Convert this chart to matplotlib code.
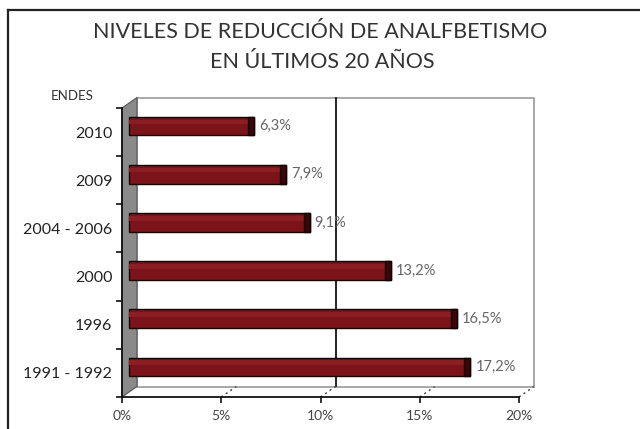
import matplotlib
matplotlib.use("Agg")
import matplotlib.pyplot as plt
import matplotlib.transforms as mtransforms
from matplotlib.patches import Polygon, Rectangle
from matplotlib.lines import Line2D

# Data
categories = ["1991 - 1992", "1996", "2000", "2004 - 2006", "2009", "2010"]
values = [17.2, 16.5, 13.2, 9.1, 7.9, 6.3]
value_labels = ["17,2%", "16,5%", "13,2%", "9,1%", "7,9%", "6,3%"]
xticks = [0, 5, 10, 15, 20]
xtick_labels = ["0%", "5%", "10%", "15%", "20%"]
title_lines = ["NIVELES DE REDUCCIÓN DE ANALFBETISMO", "EN ÚLTIMOS 20 AÑOS"]
axis_title = "ENDES"

W, H = 640, 429
fig = plt.figure(figsize=(W / 100, H / 100), dpi=100)
fig.patch.set_facecolor("white")
FONT = ["Lato", "DejaVu Sans"]

def fx(px):
    return px / W

def fy(py):
    return 1 - py / H

# outer border (top and left visible)
fig.add_artist(Line2D([fx(8), fx(640)], [fy(10), fy(10)], color="#222222", lw=1.6, transform=fig.transFigure))
fig.add_artist(Line2D([fx(8), fx(8)], [fy(10), fy(429)], color="#222222", lw=1.6, transform=fig.transFigure))

# main (front plane) axes
ax_l, ax_r, ax_t, ax_b = 122, 519, 108, 397
ax = fig.add_axes([fx(ax_l), fy(ax_b), (ax_r - ax_l) / W, (ax_b - ax_t) / H])
ax.set_xlim(0, 20)
ax.set_ylim(-0.5, len(categories) - 0.5)
ax.patch.set_alpha(0)

px_per_x = (ax_r - ax_l) / 20.0
px_per_y = (ax_b - ax_t) / len(categories)
dx = 15 / px_per_x
dy = 10.5 / px_per_y
n = len(categories)

# back wall
ax.add_patch(Rectangle((dx, -0.5 + dy), 20, n, facecolor="white", edgecolor="#9a9a9a", lw=1.2, clip_on=False, zorder=0))
# side wall
ax.add_patch(Polygon([(0, -0.5), (dx, -0.5 + dy), (dx, n - 0.5 + dy), (0, n - 0.5)],
                     closed=True, facecolor="#8a8a8a", edgecolor="#555555", lw=0.8, clip_on=False, zorder=0.5))
# gridline on back wall at 10%
ax.plot([10 + dx, 10 + dx], [-0.5 + dy, n - 0.5 + dy], color="black", lw=1.2, clip_on=False, zorder=0.6)
# floor dotted depth lines
for v in xticks[1:]:
    ax.plot([v, v + dx], [-0.5, -0.5 + dy], color="#444444", lw=1.0, ls=(0, (1.5, 2.5)), clip_on=False, zorder=0.6)

# bars with 3D offset
off = mtransforms.ScaledTranslation(7 / 100, 6 / 100, fig.dpi_scale_trans)
bar_tr = ax.transData + off
ypos = list(range(n))
bh = 0.39
ax.barh(ypos, values, height=bh, color="#7a1418", edgecolor="#120000", lw=1.0, transform=bar_tr, zorder=2)
# lighter top highlight strip
ax.barh([y + bh * 0.22 for y in ypos], values, height=bh * 0.25, color="#8a1e22", lw=0, transform=bar_tr, zorder=2.1)
# darker end cap
ax.barh(ypos, [0.3] * n, left=[v - 0.3 for v in values], height=bh, color="#3a0608",
        edgecolor="#120000", lw=1.0, transform=bar_tr, zorder=2.2)

# value labels
for y, v, lab in zip(ypos, values, value_labels):
    ax.text(v + 0.25, y, lab, transform=bar_tr, va="center", ha="left", fontsize=10.5,
            color="#666666", family=FONT, zorder=3)

# axes styling
for s in ["top", "right"]:
    ax.spines[s].set_visible(False)
ax.spines["left"].set_color("#111111")
ax.spines["bottom"].set_color("#111111")
ax.spines["left"].set_linewidth(1.3)
ax.spines["bottom"].set_linewidth(1.3)
ax.set_xticks(xticks)
ax.set_xticklabels(xtick_labels, family=FONT, fontsize=10, color="#444444")
ax.tick_params(axis="x", direction="out", length=4, width=1.2, pad=5, color="#111111")
ax.set_yticks(ypos)
ax.set_yticklabels(categories, family=FONT, fontsize=11.5, color="#222222")
ax.tick_params(axis="y", which="major", length=0, pad=7)
ax.set_yticks([y - 0.5 for y in range(n + 1)], minor=True)
ax.tick_params(axis="y", which="minor", direction="out", length=4, width=1.2, color="#111111")

# titles
fig.text(fx(320), fy(32), title_lines[0], ha="center", va="center", fontsize=15.5, color="#333333", family=FONT)
fig.text(fx(322), fy(62), title_lines[1], ha="center", va="center", fontsize=15.5, color="#333333", family=FONT)
fig.text(fx(72), fy(96), axis_title, ha="center", va="center", fontsize=9.5, color="#333333", family=FONT)

fig.savefig("out.png", dpi=100)
